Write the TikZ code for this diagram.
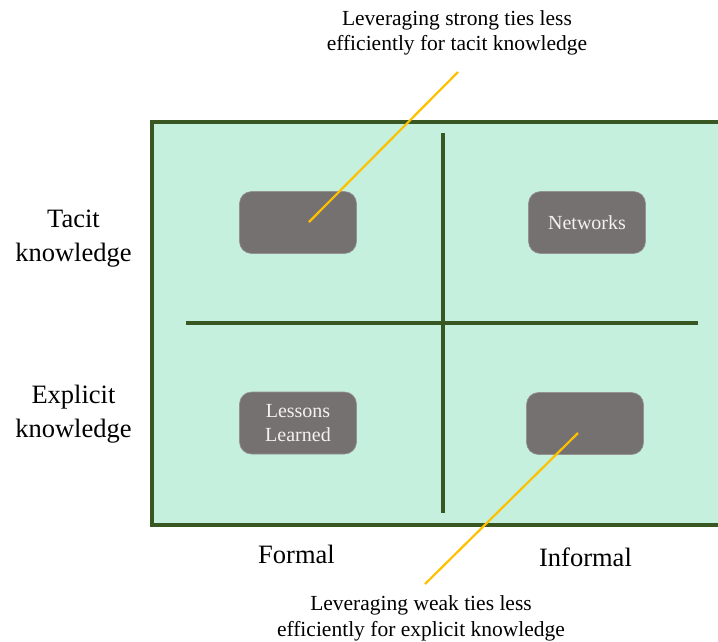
\documentclass[tikz,border=0pt]{standalone}
\usepackage{fontspec}
\setmainfont{Liberation Serif}
\usepackage{tikz}
\usetikzlibrary{positioning, calc}

\definecolor{mintfill}{RGB}{197,240,221}
\definecolor{framegreen}{RGB}{56,87,35}
\definecolor{boxgrey}{RGB}{118,113,113}
\definecolor{boxedge}{RGB}{150,146,146}
\definecolor{calloutyellow}{RGB}{255,192,0}

\begin{document}
\begin{tikzpicture}[
  x=1pt, y=-1pt,
  frame/.style={draw=framegreen, fill=mintfill, line width=3.4pt},
  divider/.style={draw=framegreen, line width=3.3pt},
  quad/.style={rectangle, draw=boxedge, line width=0.6pt, fill=boxgrey, rounded corners=12pt,
              text=white!95!black, align=center, minimum width=117pt, minimum height=62pt,
              font=\fontsize{20}{24}\selectfont},
  axis/.style={align=center, font=\fontsize{26.5}{34}\selectfont},
  note/.style={align=center, font=\fontsize{21.5}{25.5}\selectfont},
  callout/.style={draw=calloutyellow, line width=2.2pt}
]
\useasboundingbox (0,0) rectangle (718,641);

% =======================================================
%                     FRAME AND QUADRANTS
% =======================================================
\draw[frame] (152,122) rectangle (724,525);
\draw[divider] (443,133) -- (443,513);
\draw[divider] (186,323) -- (698,323);

\node[quad] (tacitformal) at (298,222.5) {};
\node[quad] (networks) at (587,222.5) {Networks};
\node[quad] (lessons) at (298,423) {Lessons\\Learned};
\node[quad] (explicitinformal) at (585,423.5) {};

% =======================================================
%                     AXIS LABELS
% =======================================================
\node[axis] (tacit) at (73.5,239) {Tacit\\knowledge};
\node[axis] (explicit) at (73.5,414) {Explicit\\knowledge};
\node[axis] (formal) at (296.5,554) {Formal};
\node[axis] (informal) at (585.5,557) {Informal};

% =======================================================
%                     CALLOUTS
% =======================================================
\node[note] (strongnote) at (457,33) {Leveraging strong ties less\\efficiently for tacit knowledge};
\node[note] (weaknote) at (421,618.5) {Leveraging weak ties less\\efficiently for explicit knowledge};

\coordinate (strongend) at (458,72);
\coordinate (weakend) at (425,584);

% strong ties -> tacit / formal
\draw[callout] ($(tacitformal.center)+(11,-0.5)$) -- (strongend);
% weak ties -> explicit / informal
\draw[callout] ($(explicitinformal.center)+(-7,9.5)$) -- (weakend);

\end{tikzpicture}
\end{document}
